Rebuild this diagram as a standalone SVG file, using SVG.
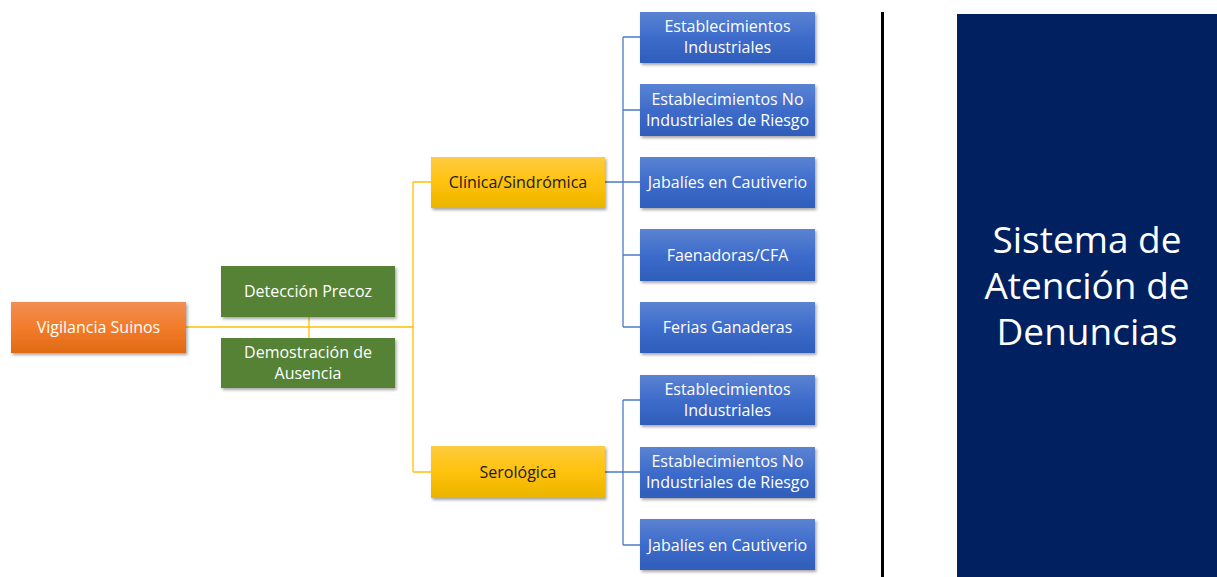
<svg xmlns="http://www.w3.org/2000/svg" width="1217" height="577" viewBox="0 0 1217 577">
<style>
text{font-family:"Open Sans","Liberation Sans",sans-serif;font-size:16px;text-anchor:middle}
.w{fill:#ffffff}
.d{fill:#1a1a1a}
.yl{stroke:#FFC000;stroke-width:1.3;fill:none}
.bl{stroke:#4F7AC8;stroke-width:1.3;fill:none}
.big{font-size:37px;fill:#ffffff}
</style>
<defs>
<linearGradient id="gO" x1="0" y1="0" x2="0" y2="1"><stop offset="0" stop-color="#F28E54"/><stop offset="0.5" stop-color="#F27C2A"/><stop offset="1" stop-color="#E06A14"/></linearGradient>
<linearGradient id="gY" x1="0" y1="0" x2="0" y2="1"><stop offset="0" stop-color="#FFCB42"/><stop offset="0.5" stop-color="#FFC20A"/><stop offset="1" stop-color="#EAB400"/></linearGradient>
<linearGradient id="gB" x1="0" y1="0" x2="0" y2="1"><stop offset="0" stop-color="#5A83D2"/><stop offset="0.5" stop-color="#3E6CCB"/><stop offset="1" stop-color="#2F5DBA"/></linearGradient>
<filter id="sh" x="-10%" y="-20%" width="125%" height="150%"><feDropShadow dx="1.5" dy="2" stdDeviation="1.5" flood-color="#000" flood-opacity="0.35"/></filter>
</defs>
<g id="connectors">
<path class="yl" d="M186 327H413M309 317V338M413 182V472M413 182H431M413 472H431"/>
<path class="bl" d="M605 182H640M623 37V327M623 37H640M623 110H640M623 255H640M623 327H640"/>
<path class="bl" d="M605 472H640M623 400V545M623 400H640M623 545H640"/>
</g>
<g id="n-vigilancia"><rect x="11" y="302" width="175" height="51" fill="url(#gO)" filter="url(#sh)"/><text class="w" x="98.5" y="333">Vigilancia Suinos</text></g>
<g id="n-deteccion"><rect x="221" y="266" width="174" height="51" fill="#548235" filter="url(#sh)"/><text class="w" x="308" y="297">Detección Precoz</text></g>
<g id="n-demostracion"><rect x="221" y="338" width="174" height="50" fill="#548235" filter="url(#sh)"/><text class="w" x="308" y="358">Demostración de</text><text class="w" x="308" y="378.5">Ausencia</text></g>
<g id="n-clinica"><rect x="431" y="157" width="174" height="51" fill="url(#gY)" filter="url(#sh)"/><text class="d" x="518" y="188">Clínica/Sindrómica</text></g>
<g id="n-serologica"><rect x="431" y="446" width="174" height="52" fill="url(#gY)" filter="url(#sh)"/><text class="d" x="518" y="477.5">Serológica</text></g>
<g id="n-c1"><rect x="640" y="12" width="175" height="51" fill="url(#gB)" filter="url(#sh)"/><text class="w" x="727.5" y="32">Establecimientos</text><text class="w" x="727.5" y="52.5">Industriales</text></g>
<g id="n-c2"><rect x="640" y="84" width="175" height="52" fill="url(#gB)" filter="url(#sh)"/><text class="w" x="727.5" y="105">Establecimientos No</text><text class="w" x="727.5" y="125.5">Industriales de Riesgo</text></g>
<g id="n-c3"><rect x="640" y="157" width="175" height="51" fill="url(#gB)" filter="url(#sh)"/><text class="w" x="727.5" y="188">Jabalíes en Cautiverio</text></g>
<g id="n-c4"><rect x="640" y="229" width="175" height="52" fill="url(#gB)" filter="url(#sh)"/><text class="w" x="727.5" y="260.5">Faenadoras/CFA</text></g>
<g id="n-c5"><rect x="640" y="302" width="175" height="51" fill="url(#gB)" filter="url(#sh)"/><text class="w" x="727.5" y="333">Ferias Ganaderas</text></g>
<g id="n-s1"><rect x="640" y="375" width="175" height="50" fill="url(#gB)" filter="url(#sh)"/><text class="w" x="727.5" y="395">Establecimientos</text><text class="w" x="727.5" y="415.5">Industriales</text></g>
<g id="n-s2"><rect x="640" y="447" width="175" height="51" fill="url(#gB)" filter="url(#sh)"/><text class="w" x="727.5" y="467">Establecimientos No</text><text class="w" x="727.5" y="487.5">Industriales de Riesgo</text></g>
<g id="n-s3"><rect x="640" y="519" width="175" height="51" fill="url(#gB)" filter="url(#sh)"/><text class="w" x="727.5" y="550.5">Jabalíes en Cautiverio</text></g>
<line x1="882.5" y1="12" x2="882.5" y2="577" stroke="#000" stroke-width="3"/>
<g id="n-sistema"><rect x="957" y="14" width="260" height="563" fill="#002060"/><text class="big" x="1087" y="253">Sistema de</text><text class="big" x="1087" y="299">Atención de</text><text class="big" x="1087" y="345">Denuncias</text></g>
</svg>
